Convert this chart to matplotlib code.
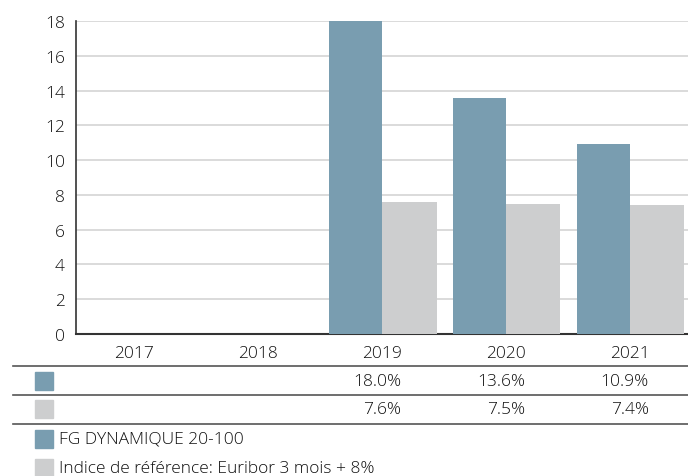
import matplotlib.pyplot as plt
from matplotlib.lines import Line2D
from matplotlib.patches import Rectangle

plt.rcParams['font.family'] = ['Open Sans', 'DejaVu Sans']
plt.rcParams['font.weight'] = 'light'

years = ['2017', '2018', '2019', '2020', '2021']
fund = [None, None, 18.0, 13.6, 10.9]
bench = [None, None, 7.6, 7.5, 7.4]
names = ['FG DYNAMIQUE 20-100', 'Indice de référence: Euribor 3 mois + 8%']
colors = ['#799db0', '#cdcecf']
txt = '#111111'

W, H = 688, 477
fig = plt.figure(figsize=(W / 100, H / 100), dpi=100)
ax = fig.add_axes([76 / W, 1 - 335 / H, 1 - 76 / W, (335 - 22) / H])

xs = list(range(len(years)))
for i, (f, b) in enumerate(zip(fund, bench)):
    if f is not None:
        ax.bar(i - 0.215, f, width=0.43, color=colors[0], zorder=3)
    if b is not None:
        ax.bar(i + 0.22, b, width=0.44, color=colors[1], zorder=3)

ax.set_xlim(-0.47, 4.47)
ax.set_ylim(0, 18)
ax.set_yticks(range(0, 19, 2))
ax.set_xticks(xs)
ax.set_xticklabels(years)
ax.yaxis.grid(True, color='#d4d4d4', linewidth=1.2, zorder=0)
ax.tick_params(axis='both', length=0, labelsize=12.5, colors=txt)
ax.tick_params(axis='y', pad=8)
ax.tick_params(axis='x', pad=8)
for s in ['top', 'right']:
    ax.spines[s].set_visible(False)
ax.spines['left'].set_color('#333333')
ax.spines['bottom'].set_color('#333333')
ax.spines['left'].set_linewidth(1.2)
ax.spines['bottom'].set_linewidth(1.5)


def fy(y):
    return 1 - y / H


# table lines
for y in [367, 396, 425]:
    fig.add_artist(Line2D([13 / W, 1], [fy(y), fy(y)], color='#555555', linewidth=1.2))

# table rows
for row, (vals, c, y) in enumerate(zip([fund, bench], colors, [382, 410])):
    fig.add_artist(Rectangle((35 / W, fy(y + 9)), 18 / W, 18 / H, color=c))
    for i, v in enumerate(vals):
        if v is None:
            continue
        xr = ax.transData.transform((i, 0))[0] / fig.dpi / fig.get_figwidth() + 19 / W
        fig.text(xr, fy(y), '%.1f%%' % v, ha='right', va='center',
                 fontsize=12.5, color=txt)

# legend
for name, c, y in zip(names, colors, [440, 469]):
    fig.add_artist(Rectangle((35 / W, fy(y + 9)), 18 / W, 18 / H, color=c))
    fig.text(59 / W, fy(y), name, ha='left', va='center', fontsize=12.5, color=txt)

fig.savefig('out.png', dpi=100)
